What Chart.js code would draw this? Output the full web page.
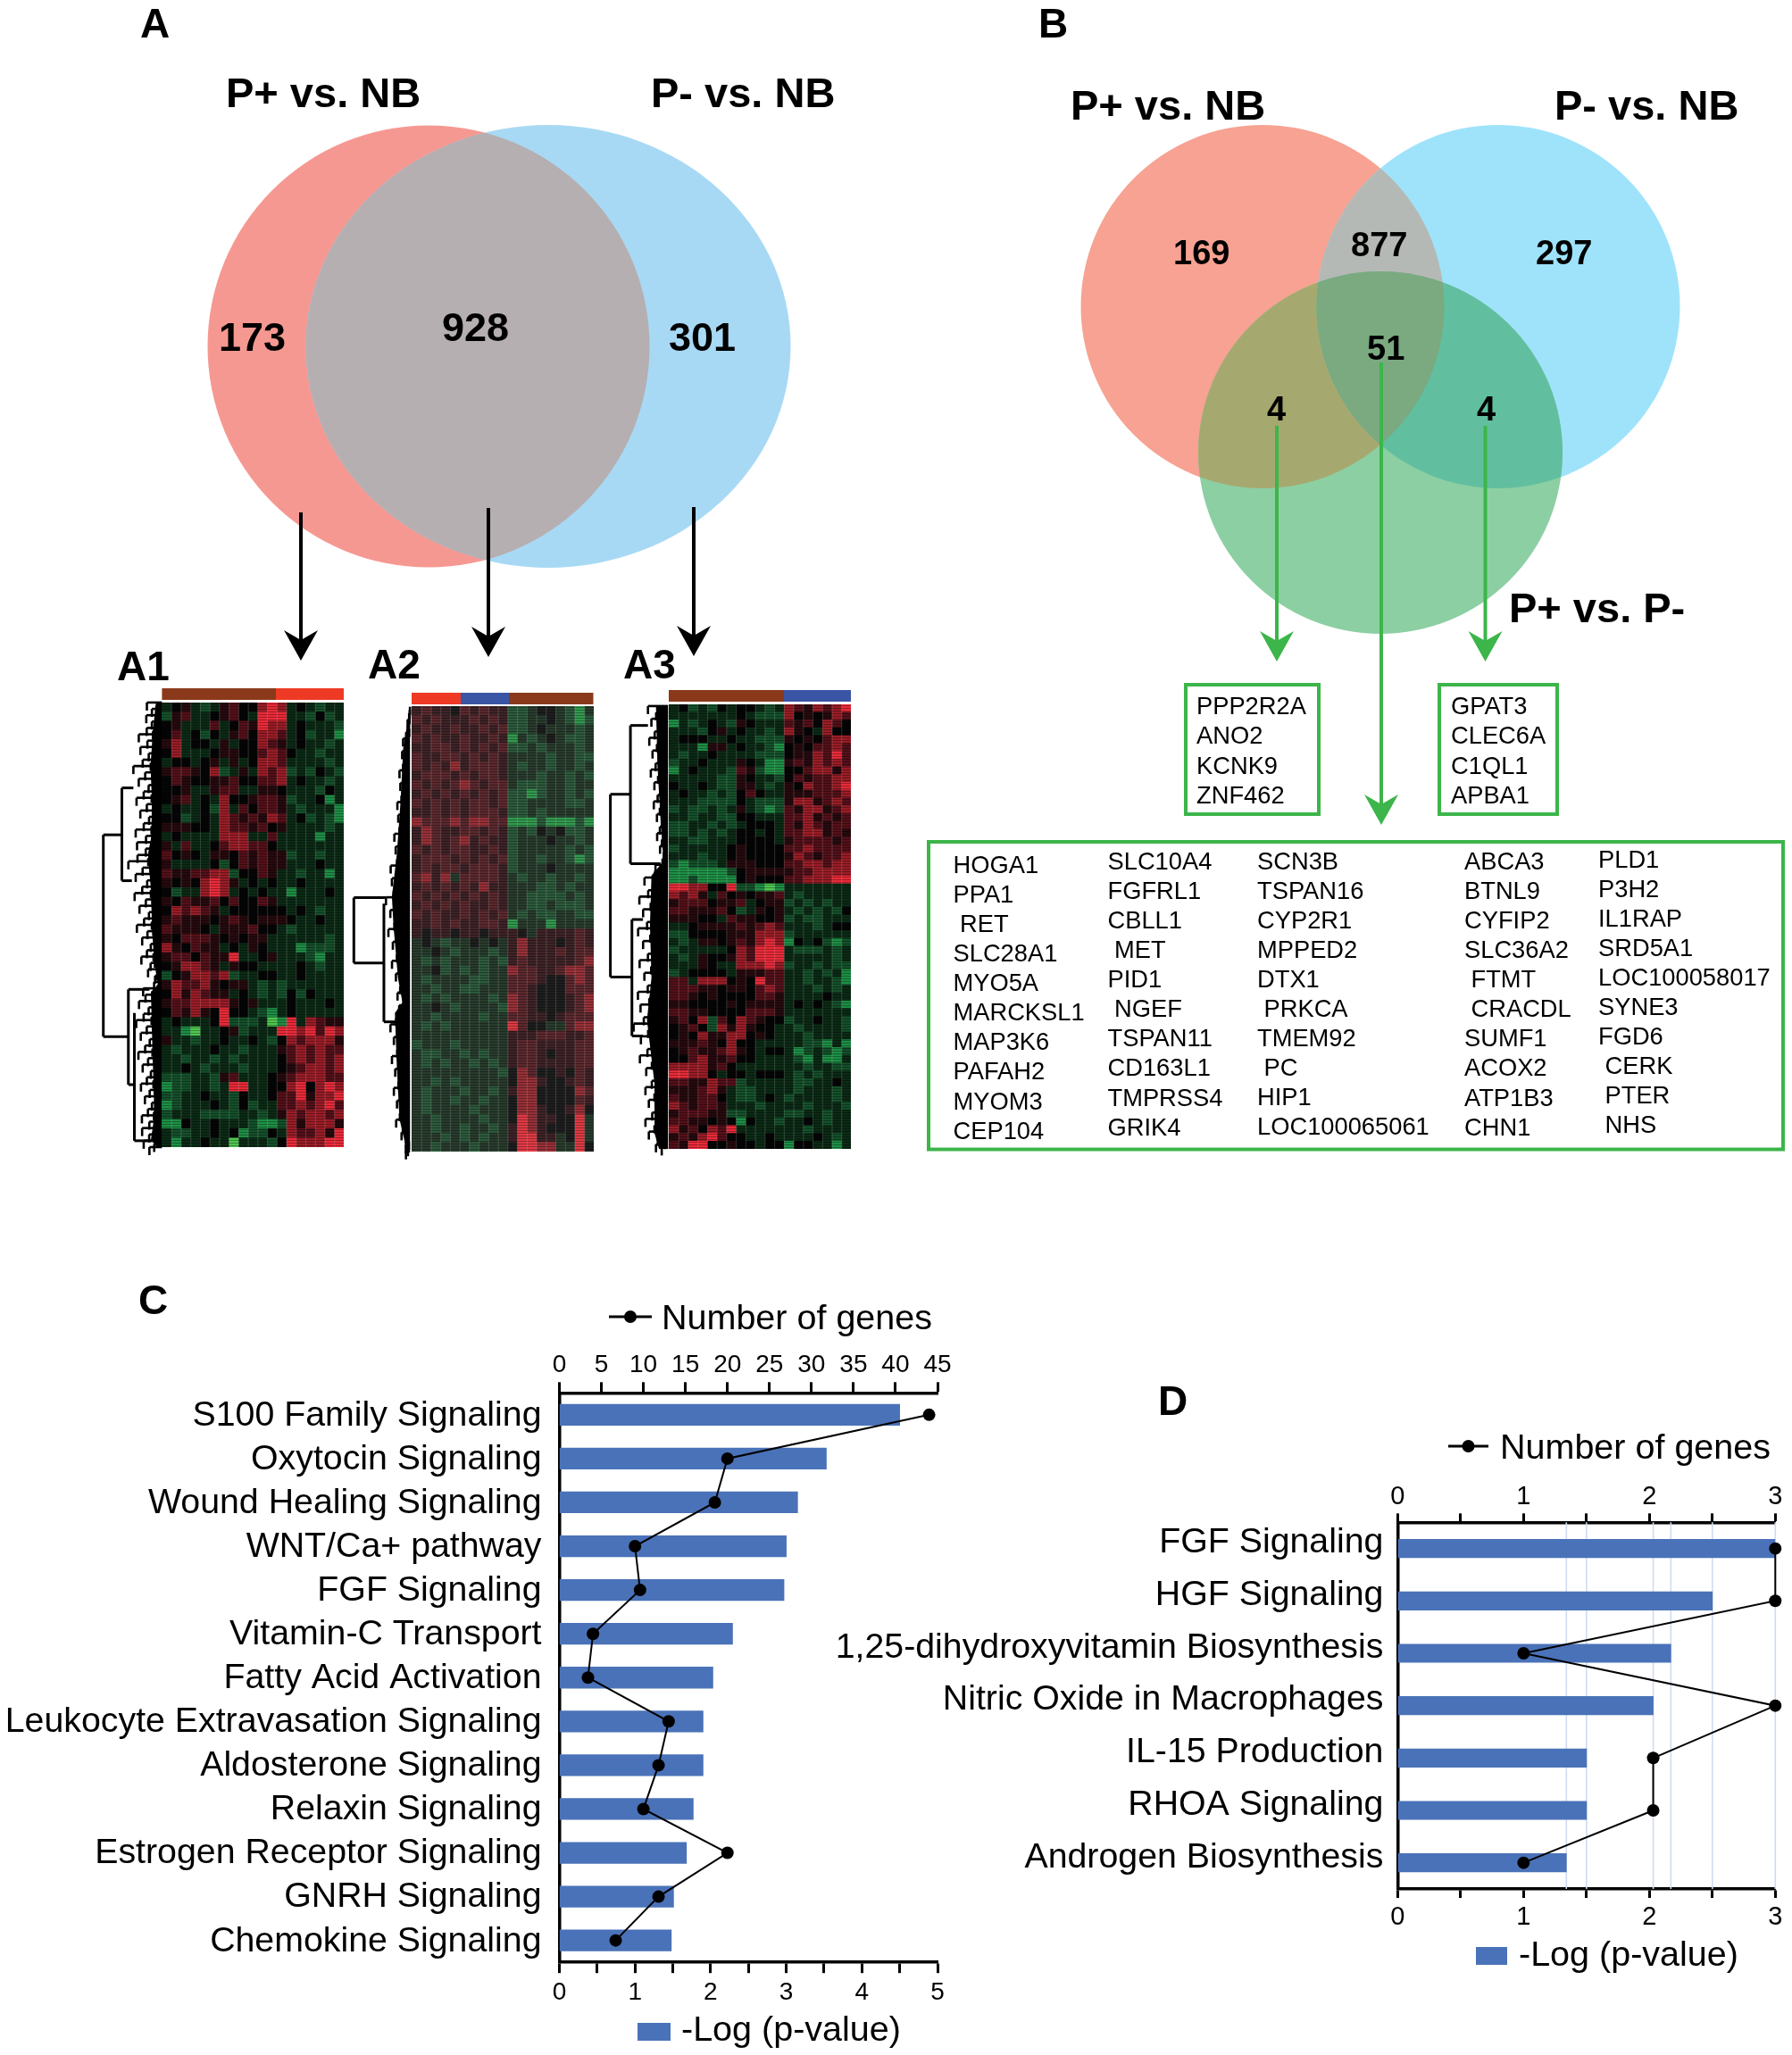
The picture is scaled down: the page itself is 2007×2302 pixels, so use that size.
<!DOCTYPE html>
<html><head><meta charset="utf-8">
<script src="https://cdn.jsdelivr.net/npm/chart.js@4"></script>
<style>html,body{margin:0;padding:0;background:#fff}canvas{position:absolute;display:block}#wrap{position:relative;width:2007px;height:2302px;overflow:hidden}</style>
</head><body><div id="wrap"></div>
<script>
/* ---------- DATA ---------- */
const categoriesC = ["S100 Family Signaling","Oxytocin Signaling","Wound Healing Signaling","WNT/Ca+ pathway","FGF Signaling","Vitamin-C Transport","Fatty Acid Activation","Leukocyte Extravasation Signaling","Aldosterone Signaling","Relaxin Signaling","Estrogen Receptor Signaling","GNRH Signaling","Chemokine Signaling"];
const pValueC = [4.50,3.53,3.15,3.00,2.97,2.29,2.03,1.90,1.90,1.77,1.68,1.51,1.48];
const genesC = [44,20,18.5,9,9.6,4,3.4,13,11.8,10,20,11.8,6.7];
const ticksTopC = [0,45], ticksBottomC = [0,5];

const categoriesD = ["FGF Signaling","HGF Signaling","1,25-dihydroxyvitamin Biosynthesis","Nitric Oxide in Macrophages","IL-15 Production","RHOA Signaling","Androgen Biosynthesis"];
const pValueD = [3.00,2.50,2.17,2.03,1.50,1.50,1.34];
const genesD = [3,3,1,3,2.03,2.03,1];

const legendLine = "Number of genes", legendBar = "-Log (p-value)";

const vennACounts = ["173","928","301"];
const vennBCounts = ["169","877","297","51","4","4"];
const vennNames = ["P+ vs. NB","P- vs. NB","P+ vs. P-"];
const boxLeftGenes = ["PPP2R2A","ANO2","KCNK9","ZNF462"];
const boxRightGenes = ["GPAT3","CLEC6A","C1QL1","APBA1"];
const geneCol1 = ["HOGA1","PPA1"," RET","SLC28A1","MYO5A","MARCKSL1","MAP3K6","PAFAH2","MYOM3","CEP104"];
const geneCol2 = ["SLC10A4","FGFRL1","CBLL1"," MET","PID1"," NGEF","TSPAN11","CD163L1","TMPRSS4","GRIK4"];
const geneCol3 = ["SCN3B","TSPAN16","CYP2R1","MPPED2","DTX1"," PRKCA","TMEM92"," PC","HIP1","LOC100065061"];
const geneCol4 = ["ABCA3","BTNL9","CYFIP2","SLC36A2"," FTMT"," CRACDL","SUMF1","ACOX2","ATP1B3","CHN1"];
const geneCol5 = ["PLD1","P3H2","IL1RAP","SRD5A1","LOC100058017","SYNE3","FGD6"," CERK"," PTER"," NHS"];

/* heat-map cells read by eye: 0 bright green ... 4 black ... 8 bright red */
const heatA1 = [
"3453235644787343233","2563345643888332423","4533363465877343332","4634243564776342331","5734435344765343323","4733345544676433233",
"3443453534776333323","5665472353767232432","4654455644667343323","4453356633554333243","4563437445665233413","3433427364665323331",
"4423437656576342321","5554437665645333323","3433337773363333133","5363346776643333333","6454355465655233233","5333342465655333433",
"6556677244653323313","5454787534343343333","4233787343433133343","5465564644653333333","4767653444444343233","5655545654555433433",
"6555435556443233333","5466654545533333323","7546553435433312223","5664655833453332133","4577653544333343233","2457767233443343333",
"5766754553232333333","4757655343232424333","5667777545333433343","4657548443213433333","3433348222301837655","3310334523338878687",
"5332334334324767775","3233343323335676766","3323323233334676767","3343233323334567767","2223325633345677766","1223323883344784787",
"2233433243346685778","1233343242336676786","2333222233235767767","1143343332112757775","3223343412243766758","3133433033324877788"];
const heatA2 = [
"5655465655223443213","6565556565223343212","5655655656223433323","6565565565132343223","5566565656223233323","6556656565333323322",
"6565756665323323323","5666565665333233232","6565676566322233233","5656565656221233232","6565656656223333223","5565656665223233333",
"7666767766111211121","5765566565232434223","5765675655233343323","6565665565233333232","5666565656233233212","5656656665233343333",
"6757366665323323323","5656565755333223233","6565656565332222323","5656565565332232223","6565565656323223322","5565655665133313333",
"5455455455543555565","3432334343575554565","3343233323575556566","3232333232565555567","3342323233766556776","3233332233666544676",
"3323322333665444666","3232333323765444567","3343233332765444567","3323333233665545666","3232333333864433677","3333333333555666556",
"2333233333566555566","3223323233566545566","3232332323566555566","3333333332476445465","3323233333477544565","3233323323577444476",
"3233233233477444465","3233332333477544574","3323333233487554483","3323323323587544483","3332323233588553483","3323332333488773384"];
const heatA3 = [
"3423243443237657678","3333333432227454576","1323432543336564764","3332453433237543744","3444334332225454677","3331553433214546676",
"3233433332224557686","2334333543115657676","1343332652114467757","3333322543324656677","4334322553235476678","3433232464335556667",
"3332222432225775676","2322323532126577567","3323322443336675656","2233232344436576566","2232323443436677565","3322333444435666656",
"2333334544446676666","3332334544445765667","2122235554446677677","1111112455555667777","1121111454446677788","8877448221013333333",
"7675364545563233333","5666455634552323233","6655564235453232324","5554436554452322333","3345555656763332344","2244445557772333333",
"3235545657871434212","2333334768883222323","3235445768883333323","3335433777872332322","2344443555663323231","6637774548663323321",
"6665545546763332323","6654544446653333433","5544445455553434321","6655444466653333333","5647264765442334332","4564275754433233332",
"4547557745433323333","5556547443333322131","4565567543443123212","4467556443333213113","7777564333333323322","8877434434443232333",
"6655766233333223343","5556753223333233323","6556643223432333323","7656653332333323332","5666552233332233233","6655454143323343233",
"7564768333333323333","5657864433433334323","6588445443441443313"];

/* ---------- STYLE ---------- */
const FONT = "'Liberation Sans', Arial, sans-serif";
const palBright = ["#4fc84f","#1d8f45","#14502a","#0b2a15","#050505","#260a0e","#541019","#9a1c26","#ea2a38"];
const palGrey   = ["#62d468","#329a4e","#2c5a3c","#283c2d","#1e1e1e","#3e2327","#5c292e","#983037","#e03a44"];
const BLUE = "#4a72b8";
const wrap = document.getElementById('wrap');

function mk(left, top, w, h){
  const c = document.createElement('canvas');
  c.width = w; c.height = h;
  c.style.left = left+'px'; c.style.top = top+'px'; c.style.width = w+'px'; c.style.height = h+'px';
  wrap.appendChild(c);
  return c.getContext('2d');
}
const base = {responsive:false, animation:false, devicePixelRatio:1};

/* ---------- PAGE (venns, labels, arrows, trees) ---------- */
function T(ctx, s, x, y, size, bold, align){
  ctx.font = (bold?'bold ':'')+size+'px '+FONT;
  ctx.textAlign = align||'left'; ctx.textBaseline='alphabetic'; ctx.fillStyle='#000';
  ctx.fillText(s, x, y);
}
function shape(ctx, e){ ctx.beginPath(); ctx.ellipse(e[0], e[1], e[2], e[3], 0, 0, Math.PI*2); }
function fillE(ctx, e, col, clips){
  ctx.save();
  (clips||[]).forEach(k=>{shape(ctx,k); ctx.clip();});
  shape(ctx,e); ctx.fillStyle=col; ctx.fill(); ctx.restore();
}
function arrow(ctx, x, y0, tip, col, lw){
  ctx.save(); ctx.strokeStyle=col; ctx.fillStyle=col; ctx.lineWidth=lw;
  ctx.beginPath(); ctx.moveTo(x,y0); ctx.lineTo(x,tip-20); ctx.stroke();
  ctx.beginPath(); ctx.moveTo(x,tip); ctx.lineTo(x+19,tip-34); ctx.lineTo(x,tip-23); ctx.lineTo(x-19,tip-34); ctx.closePath(); ctx.fill();
  ctx.restore();
}
function box(ctx,x,y,w,h){ ctx.save(); ctx.strokeStyle='#3cb54a'; ctx.lineWidth=4; ctx.strokeRect(x,y,w,h); ctx.restore(); }
function strip(ctx,y,h,parts){ parts.forEach(p=>{ctx.fillStyle=p[2]; ctx.fillRect(p[0],y,p[1]-p[0],h);}); }
const zx = X => X/1.782+100, zy = Y => Y/2.53+700;
function bound(pts,Y){
  for(let i=1;i<pts.length;i++){ if(Y<=pts[i][1]){ const a=pts[i-1],b=pts[i],t=(Y-a[1])/(b[1]-a[1]||1); return a[0]+(b[0]-a[0])*t; } }
  return pts[pts.length-1][0];
}
function tree(ctx, edge, pts, segs, solid){
  ctx.save(); ctx.strokeStyle='#000'; ctx.lineCap='butt';
  ctx.lineWidth=3;
  segs.forEach(s=>{ ctx.beginPath(); s.forEach((p,i)=>{const x=zx(p[0]),y=zy(p[1]); i?ctx.lineTo(x,y):ctx.moveTo(x,y);}); ctx.stroke(); });
  const depth=[1,.35,.6,.2,.85,.3,.5,.15,.7,.4];
  const e=zx(edge); let k=0;
  ctx.lineWidth=2.6;
  for(let Y=pts[0][1];Y<=pts[pts.length-1][1];Y+=9){
    const b=zx(bound(pts,Y)), x=e-(e-b)*depth[k++%depth.length], y=zy(Y);
    ctx.beginPath(); ctx.moveTo(x,y); ctx.lineTo(e,y); ctx.stroke();
    ctx.beginPath(); ctx.moveTo(x,y); ctx.lineTo(x,y+9); ctx.stroke();
  }
  ctx.fillStyle='#000';
  ctx.beginPath(); ctx.moveTo(e,zy(pts[0][1]));
  pts.forEach(p=>ctx.lineTo(e-(e-zx(p[0]))*solid,zy(p[1])));
  ctx.lineTo(e,zy(pts[pts.length-1][1])); ctx.closePath(); ctx.fill();
  ctx.restore();
}
const pagePlugin = {id:'page', afterDraw(chart){
  const c = chart.ctx; c.save();
  /* Venn A */
  const aR=[480,388,247.5,247.5], aB=[614,388,271.5,248];
  fillE(c,aR,'#f69892'); fillE(c,aB,'#a8d9f4'); fillE(c,aR,'#b5afb1',[aB]);
  /* Venn B */
  const R=[1414,343.4,203.5,203.5], L=[1678,343.4,203.5,203.5], G=[1546,507,204,203];
  fillE(c,R,'#f7a292'); fillE(c,L,'#9fe3fb'); fillE(c,G,'#8ccfa3');
  fillE(c,R,'#b4b9b5',[L]); fillE(c,R,'#a6a96f',[G]); fillE(c,L,'#61bf9f',[G]); fillE(c,R,'#7ba980',[L,G]);
  /* panel letters */
  T(c,'A',157,42,46,true); T(c,'B',1163,42,46,true); T(c,'C',155,1472,46,true); T(c,'D',1297,1585,46,true);
  T(c,'A1',131,762,46,true); T(c,'A2',412,760,46,true); T(c,'A3',698,760,46,true);
  /* venn titles and counts */
  T(c,vennNames[0],253,120,47,true); T(c,vennNames[1],729,120,47,true);
  T(c,vennNames[0],1199,134,47,true); T(c,vennNames[1],1741,134,47,true); T(c,vennNames[2],1690,697,47,true);
  T(c,vennACounts[0],245,393,45,true); T(c,vennACounts[1],495,382,45,true); T(c,vennACounts[2],749,393,45,true);
  T(c,vennBCounts[0],1314,296,38,true); T(c,vennBCounts[1],1513,287,38,true); T(c,vennBCounts[2],1720,296,38,true);
  T(c,vennBCounts[3],1531,403,38,true); T(c,vennBCounts[4],1419,471,38,true); T(c,vennBCounts[5],1654,471,38,true);
  /* arrows */
  arrow(c,337,574,740,'#000',4); arrow(c,547,569,736,'#000',4); arrow(c,777,568,735,'#000',4);
  arrow(c,1430,477,741,'#3cb54a',4); arrow(c,1547,406,924,'#3cb54a',4); arrow(c,1663.5,477,741,'#3cb54a',4);
  /* gene boxes */
  box(c,1328,767,149,145); box(c,1612,767,132,145); box(c,1040,943,957,344.5);
  const gene=(list,x,y0,y1)=>list.forEach((g,i)=>{
    const lead=g.startsWith(' ');
    T(c,g.trim(),x+(lead?7.5:0),y0+(y1-y0)*i/(list.length-1),27.3,false);
  });
  gene(boxLeftGenes,1340,800,900); gene(boxRightGenes,1625,800,900);
  gene(geneCol1,1067.5,977.5,1275.7); gene(geneCol2,1240.5,974,1271.6); gene(geneCol3,1408,974,1271);
  gene(geneCol4,1640,974,1271.6); gene(geneCol5,1790,972,1269);
  /* heat-map annotation strips */
  const BR='#8a3a1a',RD='#ee3a24',BL='#3b55a5';
  strip(c,771,13,[[181.4,309,BR],[309,385,RD]]);
  strip(c,776,13,[[461,516,RD],[516,570,BL],[570,664.5,BR]]);
  strip(c,773,13,[[749,878,BR],[878,953,BL]]);
  /* dendrograms */
  tree(c,145,[[115,220],[100,300],[88,400],[95,500],[92,600],[75,650],[90,750],[95,850],[105,950],[125,1020],[90,1040],[95,1150],[100,1250],[105,1330],[105,1400],[90,1460],[120,1480]],
    [[[65,462],[65,725]],[[65,462],[88,462]],[[65,725],[85,725]],[[28,595],[65,595]],[[28,595],[28,1167]],[[28,1167],[78,1167]],[[78,1033],[78,1303]],[[78,1033],[120,1033]],[[78,1303],[90,1303]],[[90,1100],[90,1462]],[[90,1462],[125,1462]]],.4);
  tree(c,640,[[640,232],[622,350],[615,500],[605,650],[592,770],[596,850],[608,1000],[620,1070],[600,1100],[605,1250],[612,1400],[632,1492]],
    [[[528,773],[528,958]],[[528,773],[592,773]],[[528,958],[588,958]],[[588,790],[588,1125]],[[588,1125],[625,1125]]],.75);
  tree(c,1155,[[1115,230],[1120,400],[1130,550],[1140,670],[1100,710],[1095,850],[1100,1000],[1085,1120],[1110,1300],[1110,1440],[1125,1485]],
    [[[1040,480],[1040,998]],[[1040,480],[1080,480]],[[1040,998],[1083,998]],[[1080,285],[1080,677]],[[1080,285],[1115,285]],[[1080,677],[1140,677]],[[1083,835],[1083,1165]],[[1083,835],[1105,835]],[[1083,1165],[1105,1165]]],.6);
  /* legends of C and D */
  const lineLeg=(x0,x1,y,tx)=>{ c.strokeStyle='#000'; c.lineWidth=3; c.beginPath(); c.moveTo(x0,y); c.lineTo(x1,y); c.stroke();
    c.fillStyle='#000'; c.beginPath(); c.arc((x0+x1)/2,y,7,0,Math.PI*2); c.fill(); T(c,legendLine,tx,y+14,39.5); };
  lineLeg(682,730,1475,741); lineLeg(1622,1667,1620,1680);
  c.fillStyle=BLUE; c.fillRect(714,2266,37,20); c.fillRect(1653,2181,35,20);
  T(c,legendBar,763,2286,39.5); T(c,legendBar,1701,2202,39.5);
  c.restore();
}};
new Chart(mk(0,0,2007,2302),{type:'scatter',data:{datasets:[]},plugins:[pagePlugin],
  options:{...base,plugins:{legend:{display:false},tooltip:{enabled:false}},scales:{x:{display:false},y:{display:false}}}});

/* ---------- HEAT MAPS ---------- */
const rowTexture={id:'rowTexture',afterDraw(ch){
  const c=ch.ctx,w=ch.width,h=ch.height; c.save();
  c.fillStyle='rgba(0,0,0,.32)';
  for(let y=1;y<h;y+=3) c.fillRect(0,y,w,1);
  c.fillStyle='rgba(200,200,200,.22)';
  const n=ch.data.datasets.length;
  for(let i=1;i<n;i++) c.fillRect(w*i/n,0,1,h);
  c.restore();
}};
function heat(rows,pal,left,top,w,h){
  const cols=rows[0].length, labels=rows.map((_,i)=>i);
  const datasets=[];
  for(let c=0;c<cols;c++) datasets.push({data:rows.map(()=>1),backgroundColor:rows.map(r=>pal[+r[c]]),borderWidth:0,barPercentage:1,categoryPercentage:1});
  new Chart(mk(left,top,w,h),{type:'bar',data:{labels,datasets},plugins:[rowTexture],
    options:{...base,indexAxis:'y',layout:{padding:0},plugins:{legend:{display:false},tooltip:{enabled:false}},
      scales:{x:{display:false,stacked:true,min:0,max:cols},y:{display:false,stacked:true}}}});
}
heat(heatA1,palBright,181,787,204,498);
heat(heatA2,palGrey,461,791,204,499);
heat(heatA3,palBright,749,789,204,498);

/* ---------- BAR + LINE PANELS ---------- */
function panel(o){
  const axis=(pos,max,step,everyLabel,h,pad)=>({type:'linear',position:pos,min:0,max,
    afterFit:s=>{s.height=h;},
    ticks:{color:'#000',font:{family:FONT,size:o.tickSize},padding:pad,autoSkip:false,maxRotation:0,stepSize:step,callback:v=>(Number.isInteger(v/everyLabel)?String(v):'')},
    grid:{drawOnChartArea:false,drawTicks:true,tickLength:o.tickLen,tickColor:'#000',tickWidth:3},
    border:{display:true,color:'#000',width:3.5}});
  const gridPlugin={id:'barEnds',beforeDatasetsDraw(ch){
    if(!o.gridFromBars) return;
    const s=ch.scales.x,a=ch.chartArea,c=ch.ctx; c.save(); c.strokeStyle='#d0dbf1'; c.lineWidth=1.6;
    [...new Set(o.bars)].forEach(v=>{const x=s.getPixelForValue(v); c.beginPath(); c.moveTo(x,a.top); c.lineTo(x,a.bottom); c.stroke();});
    c.restore();
  }};
  new Chart(mk(o.left,o.top,o.w,o.h),{
    data:{labels:o.labels,datasets:[
      {type:'line',label:legendLine,data:o.line,xAxisID:'x2',yAxisID:'y',indexAxis:'y',order:0,clip:false,
       borderColor:'#000',borderWidth:2,tension:0,pointRadius:7,pointBackgroundColor:'#000',pointBorderColor:'#000',pointBorderWidth:0},
      {type:'bar',label:legendBar,data:o.bars,xAxisID:'x',yAxisID:'y',indexAxis:'y',order:1,
       backgroundColor:BLUE,barThickness:o.barH,borderWidth:0}
    ]},
    plugins:[gridPlugin],
    options:{...base,indexAxis:'y',layout:{padding:{left:0,top:0,right:o.padR,bottom:0}},
      plugins:{legend:{display:false},tooltip:{enabled:false}},
      scales:{
        x:axis('bottom',o.maxB,o.stepB,o.labelB,o.botH,o.padB),
        x2:axis('top',o.maxT,o.stepT,o.labelT,o.topH,o.padT),
        y:{type:'category',position:'left',afterFit:s=>{s.width=o.yW;},
           ticks:{color:'#000',font:{family:FONT,size:39.3},padding:o.yPad,autoSkip:false,labelOffset:o.yOff},
           grid:{display:false,drawTicks:false},border:{display:true,color:'#000',width:3.5}}
      }}});
}
panel({left:0,top:1500,w:1110,h:802,labels:categoriesC,bars:pValueC,line:genesC,yW:626.5,padR:60,topH:60.3,botH:103.8,
  maxB:ticksBottomC[1],stepB:.5,labelB:1,maxT:ticksTopC[1],stepT:5,labelT:5,tickSize:28,padT:2,padB:5,tickLen:12,yPad:20,yOff:1,barH:23.6,gridFromBars:false});
panel({left:900,top:1640,w:1107,h:662,labels:categoriesD,bars:pValueD,line:genesD,yW:665.4,padR:18.7,topH:65.3,botH:186,
  maxB:3,stepB:.5,labelB:1,maxT:3,stepT:.5,labelT:1,tickSize:29,padT:1,padB:5,tickLen:10,yPad:16,yOff:-6,barH:20.5,gridFromBars:true});
</script></body></html>
